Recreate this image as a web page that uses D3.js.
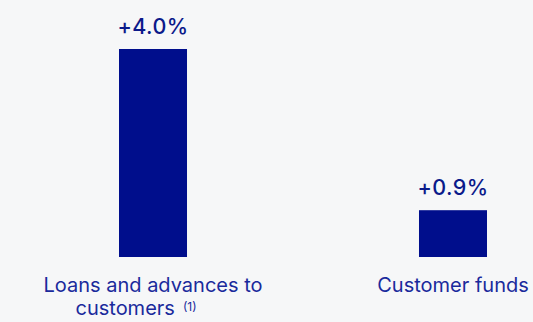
<!DOCTYPE html>
<html>
<head>
<meta charset="utf-8">
<script src="https://cdn.jsdelivr.net/npm/d3@7"></script>
<style>
  html, body { margin: 0; padding: 0; background: #f6f7f8; }
  svg { display: block; font-family: Inter, "Open Sans", sans-serif; }
</style>
</head>
<body>
<div id="chart"></div>
<script>
// chart data
var categories = ["Loans and advances to customers", "Customer funds"];
var values = [4.0, 0.9];
var value_labels = ["+4.0%", "+0.9%"];
var label_lines = [["Loans and advances to", "customers"], ["Customer funds"]];
var footnotes = ["(1)", ""];

var width = 533, height = 322;
var bar_color = "#000e8c", text_color = "#0b1a8a";

var svg = d3.select("#chart").append("svg")
    .attr("width", width)
    .attr("height", height);

svg.append("rect").attr("width", width).attr("height", height).attr("fill", "#f6f7f8");

var x = d3.scaleBand()
    .domain(categories)
    .range([119, 487])
    .paddingInner(0.7733)
    .paddingOuter(0);

var y = d3.scaleLinear()
    .domain([0, 4.0])
    .range([257, 49]);

//Bars
svg.append("g").selectAll("rect")
    .data(values)
    .enter().append("rect")
    .attr("x", function (d, i) { return x(categories[i]); })
    .attr("y", function (d) { return y(d); })
    .attr("width", x.bandwidth())
    .attr("height", function (d) { return y(0) - y(d); })
    .attr("fill", bar_color);

//Value labels on top
svg.append("g").selectAll("text")
    .data(values)
    .enter().append("text")
    .attr("x", function (d, i) { return x(categories[i]) + x.bandwidth() / 2; })
    .attr("y", function (d) { return y(d) - 15; })
    .attr("text-anchor", "middle")
    .attr("font-size", 21.5)
    .attr("font-weight", 500)
    .attr("letter-spacing", 0.4)
    .attr("fill", text_color)
    .text(function (d, i) { return value_labels[i]; });

//Category labels
var cat = svg.append("g").selectAll("text")
    .data(categories)
    .enter().append("text")
    .attr("text-anchor", "middle")
    .attr("font-size", 20)
    .attr("fill", "#1a2a9c");

cat.each(function (d, i) {
    var t = d3.select(this);
    var cx = x(d) + x.bandwidth() / 2;
    label_lines[i].forEach(function (line, j) {
        t.append("tspan")
            .attr("x", j == 0 ? cx : cx - 17)
            .attr("y", 292 + j * 23)
            .text(line);
        if (j == label_lines[i].length - 1 && footnotes[i]) {
            t.append("tspan")
                .attr("dx", 8)
                .attr("dy", -4)
                .attr("font-size", 12)
                .text(footnotes[i]);
        }
    });
});
</script>
</body>
</html>
